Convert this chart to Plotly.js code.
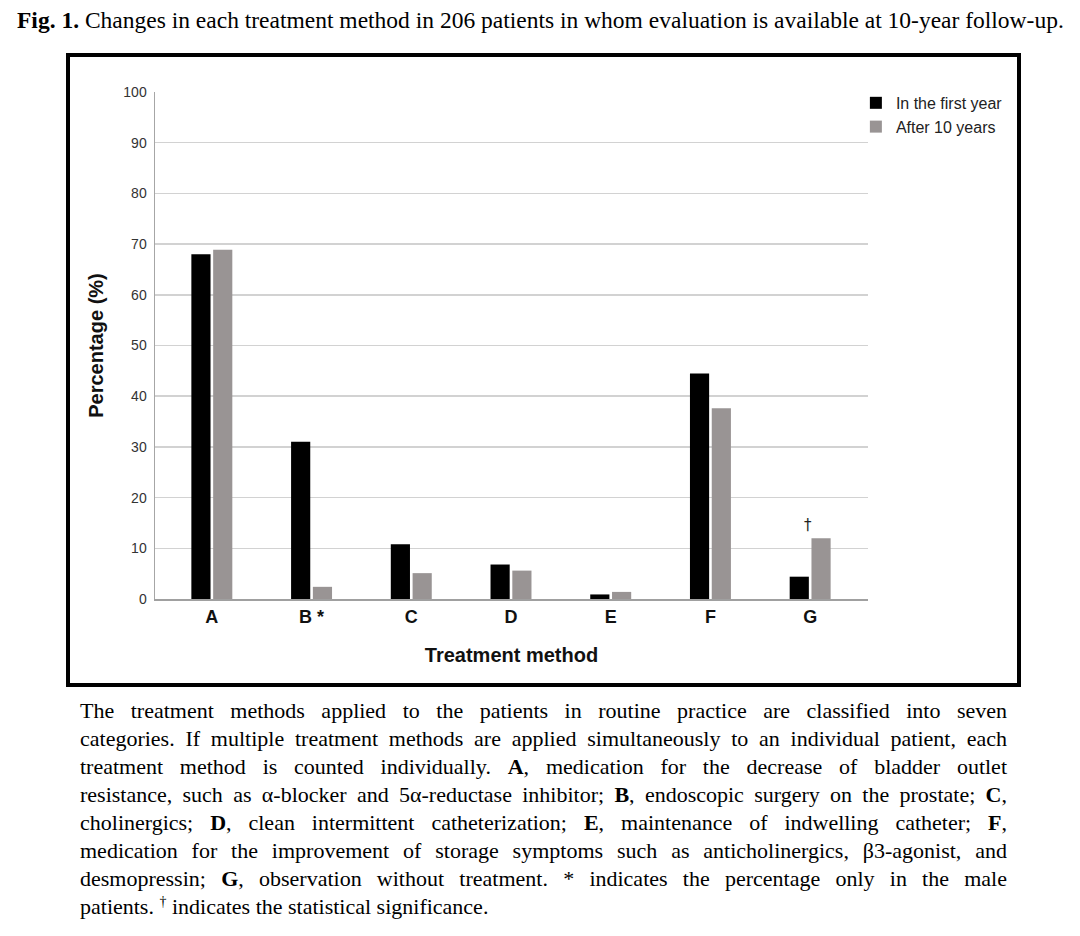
<!DOCTYPE html>
<html>
<head>
<meta charset="utf-8">
<script src="https://cdn.plot.ly/plotly-3.0.1.min.js"></script>
<style>
  html, body { margin: 0; padding: 0; background: #fff; }
  body { width: 1080px; height: 936px; position: relative; overflow: hidden; }
  #title { position: absolute; left: 17px; top: 7px; font-family: "Liberation Serif", "Times New Roman", serif; font-size: 23.5px; white-space: nowrap; color: #000; }
  #box { position: absolute; left: 66px; top: 53px; width: 947px; height: 626px; border: 4px solid #000; }
  #chart { width: 947px; height: 626px; }
  #caption { position: absolute; left: 80px; top: 697px; width: 927px; font-family: "Liberation Serif", "Times New Roman", serif; font-size: 22px; line-height: 28px; color: #000; }
  #caption div { text-align: justify; text-align-last: justify; }
  #caption div.last { text-align-last: left; }
</style>
</head>
<body>
<div id="title"><b>Fig. 1.</b> Changes in each treatment method in 206 patients in whom evaluation is available at 10-year follow-up.</div>
<div id="box"><div id="chart"></div></div>
<div id="caption">
  <div>The treatment methods applied to the patients in routine practice are classified into seven</div>
  <div>categories. If multiple treatment methods are applied simultaneously to an individual patient, each</div>
  <div>treatment method is counted individually. <b>A</b>, medication for the decrease of bladder outlet</div>
  <div>resistance, such as α-blocker and 5α-reductase inhibitor; <b>B</b>, endoscopic surgery on the prostate; <b>C</b>,</div>
  <div>cholinergics; <b>D</b>, clean intermittent catheterization; <b>E</b>, maintenance of indwelling catheter; <b>F</b>,</div>
  <div>medication for the improvement of storage symptoms such as anticholinergics, β3-agonist, and</div>
  <div>desmopressin; <b>G</b>, observation without treatment. * indicates the percentage only in the male</div>
  <div class="last">patients. <sup style="font-size:14px;line-height:0">†</sup> indicates the statistical significance.</div>
</div>
<script>
// ---- data ----
const categories = ['A', 'B *', 'C', 'D', 'E', 'F', 'G'];
const firstYear = [68.0, 31.0, 10.8, 6.8, 0.9, 44.5, 4.4];
const after10Years = [68.9, 2.4, 5.1, 5.6, 1.4, 37.6, 12.0];
const seriesNames = ['In the first year', 'After 10 years'];
const yTicks = [0, 10, 20, 30, 40, 50, 60, 70, 80, 90, 100];
const significanceMark = '†';
const significantCategoryIndex = 6;

const traces = [
  { type: 'bar', name: seriesNames[0], x: categories, y: firstYear,
    marker: { color: '#000000', line: { width: 0 } }, hoverinfo: 'skip' },
  { type: 'bar', name: seriesNames[1], x: categories, y: after10Years,
    marker: { color: '#999494', line: { width: 0 } }, hoverinfo: 'skip' }
];

const layout = {
  width: 947, height: 626,
  margin: { l: 85, r: 149, t: 35, b: 84, autoexpand: false },
  paper_bgcolor: '#ffffff', plot_bgcolor: '#ffffff',
  barmode: 'group', bargap: 0.563, bargroupgap: 0.12,
  font: { family: 'Arial, "Liberation Sans", sans-serif', color: '#222' },
  xaxis: {
    type: 'category', range: [-0.57, 6.58],
    showline: true, linecolor: '#a0a0a0', linewidth: 2,
    showgrid: false, zeroline: false, ticks: '',
    tickfont: { size: 18, color: '#111', family: 'Arial, "Liberation Sans", sans-serif', weight: 'bold' },
    title: { text: 'Treatment method', standoff: 22,
             font: { size: 20, color: '#111', weight: 'bold' } }
  },
  yaxis: {
    range: [0, 100], tickvals: yTicks, ticktext: yTicks.map(String),
    showline: true, linecolor: '#a6a6a6', linewidth: 1.5,
    showgrid: true, gridcolor: '#d2d2d2', gridwidth: 1.5,
    zeroline: false, ticks: '', ticklabelstandoff: 4,
    tickfont: { size: 14, color: '#333' },
    title: { text: 'Percentage (%)', standoff: 14,
             font: { size: 20, color: '#111', weight: 'bold' } }
  },
  legend: {
    x: 0.983, y: 1.012, xanchor: 'left', yanchor: 'top',
    bgcolor: 'rgba(0,0,0,0)', borderwidth: 0,
    font: { size: 16, color: '#222' }, tracegroupgap: 0
  },
  annotations: [{
    x: categories[significantCategoryIndex], y: after10Years[significantCategoryIndex],
    xref: 'x', yref: 'y', text: significanceMark, showarrow: false,
    xanchor: 'center', yanchor: 'bottom', xshift: -2, yshift: 2,
    font: { size: 15, color: '#222', family: '"DejaVu Sans", Arial, sans-serif' }
  }]
};

Plotly.newPlot('chart', traces, layout, { displayModeBar: false, staticPlot: true });
</script>
</body>
</html>
